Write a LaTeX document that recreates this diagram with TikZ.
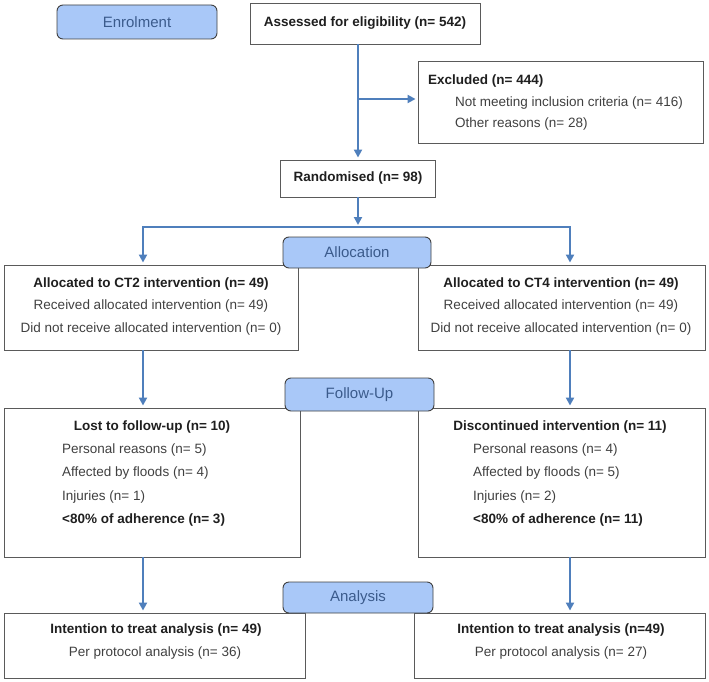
\documentclass[tikz,border=0pt]{standalone}
\usepackage{fontspec}
\setmainfont{Liberation Sans}
\usetikzlibrary{arrows.meta}
\definecolor{stagefill}{HTML}{A9C8F8}
\definecolor{stagetext}{HTML}{3B5B8C}
\definecolor{arrowblue}{HTML}{4F7FBC}
\definecolor{boxline}{HTML}{5A5A5A}
\definecolor{bodytext}{HTML}{404040}
\begin{document}
\begin{tikzpicture}[x=1pt, y=-1pt,
    box/.style={draw=boxline, line width=0.9pt, rectangle, inner sep=0pt},
    stage/.style={draw=black!75, fill=stagefill, rounded corners=6pt, line width=0.9pt,
        text=stagetext, inner sep=0pt, font=\fontsize{15}{18}\selectfont},
    head/.style={inner sep=0pt, text=black!88, font=\fontsize{13.5}{16}\selectfont\bfseries},
    item/.style={inner sep=0pt, text=bodytext, font=\fontsize{13.5}{16}\selectfont},
    arr/.style={draw=arrowblue, line width=2.6pt, -{Triangle[length=8pt,width=8pt]}, shorten >=2pt},
    link/.style={draw=arrowblue, line width=2.6pt}]
    \useasboundingbox (0,0) rectangle (709,682);

    % Einschluss
    \node[box, head, minimum width=230pt, minimum height=41pt] (assess) at (365,23.5) {Assessed for eligibility (n= 542)};
    \node[box, minimum width=285pt, minimum height=82pt] (excl) at (560.5,102) {};
    \node[head, anchor=west] (exclT) at (428,81) {Excluded (n= 444)};
    \node[item, anchor=west] (exclA) at (455,103) {Not meeting inclusion criteria (n= 416)};
    \node[item, anchor=west] (exclB) at (455,124) {Other reasons (n= 28)};
    \node[box, head, minimum width=155pt, minimum height=37pt] (rand) at (358,178.5) {Randomised (n= 98)};

    % Zuteilung
    \node[box, minimum width=294pt, minimum height=85pt] (ct2) at (151,307.5) {};
    \node[head] (ct2T) at (151,284) {Allocated to CT2 intervention (n= 49)};
    \node[item] (ct2A) at (151,306) {Received allocated intervention (n= 49)};
    \node[item] (ct2B) at (151,329) {Did not receive allocated intervention (n= 0)};
    \node[box, minimum width=287pt, minimum height=85pt] (ct4) at (561.5,307.5) {};
    \node[head] (ct4T) at (561,284) {Allocated to CT4 intervention (n= 49)};
    \node[item] (ct4A) at (561,306) {Received allocated intervention (n= 49)};
    \node[item] (ct4B) at (561,329) {Did not receive allocated intervention (n= 0)};

    % Nachbeobachtung
    \node[box, minimum width=296pt, minimum height=149pt] (lost) at (152,482.5) {};
    \node[head] (lostT) at (152,427) {Lost to follow-up (n= 10)};
    \node[item, anchor=west] (lostA) at (62,450) {Personal reasons (n= 5)};
    \node[item, anchor=west] (lostB) at (62,473) {Affected by floods (n= 4)};
    \node[item, anchor=west] (lostC) at (62,497) {Injuries (n= 1)};
    \node[head, anchor=west] (lostD) at (62,520) {<80\% of adherence (n= 3)};
    \node[box, minimum width=287pt, minimum height=149pt] (disc) at (561.5,482.5) {};
    \node[head] (discT) at (560,427) {Discontinued intervention (n= 11)};
    \node[item, anchor=west] (discA) at (473,450) {Personal reasons (n= 4)};
    \node[item, anchor=west] (discB) at (473,473) {Affected by floods (n= 5)};
    \node[item, anchor=west] (discC) at (473,497) {Injuries (n= 2)};
    \node[head, anchor=west] (discD) at (473,520) {<80\% of adherence (n= 11)};

    % Auswertung
    \node[box, minimum width=301pt, minimum height=65pt] (itt2) at (154.5,645.5) {};
    \node[head] (itt2T) at (156,630) {Intention to treat analysis (n= 49)};
    \node[item] (itt2A) at (155,653) {Per protocol analysis (n= 36)};
    \node[box, minimum width=291pt, minimum height=65pt] (itt4) at (559.5,645.5) {};
    \node[head] (itt4T) at (561,630) {Intention to treat analysis (n=49)};
    \node[item] (itt4A) at (561,653) {Per protocol analysis (n= 27)};

    % Pfeile
    \coordinate (lcol) at (143,0);
    \coordinate (rcol) at (570,0);
    \coordinate (branch) at (358,99);
    \coordinate (split) at (358,227);
    \draw[arr] (assess.south -| rand.north) -- (rand.north);
    \draw[arr] (branch) -- (branch -| excl.west);
    \draw[arr] (rand.south) -- (split);
    \draw[arr] (split) -| (ct2.north -| lcol);
    \draw[arr] (split) -| (ct4.north -| rcol);
    \draw[arr] (ct2.south -| lcol) -- (lost.north -| lcol);
    \draw[arr] (ct4.south -| rcol) -- (disc.north -| rcol);
    \draw[arr] (lost.south -| lcol) -- (itt2.north -| lcol);
    \draw[arr] (disc.south -| rcol) -- (itt4.north -| rcol);

    % Phasen
    \node[stage, minimum width=160pt, minimum height=34pt] (enrol) at (137,22) {Enrolment};
    \node[stage, minimum width=148pt, minimum height=31pt] (alloc) at (357,252.5) {Allocation};
    \node[stage, minimum width=149pt, minimum height=33pt] (follow) at (359.5,394.5) {Follow-Up};
    \node[stage, minimum width=150pt, minimum height=31pt] (anal) at (358,597.5) {Analysis};
\end{tikzpicture}
\end{document}
